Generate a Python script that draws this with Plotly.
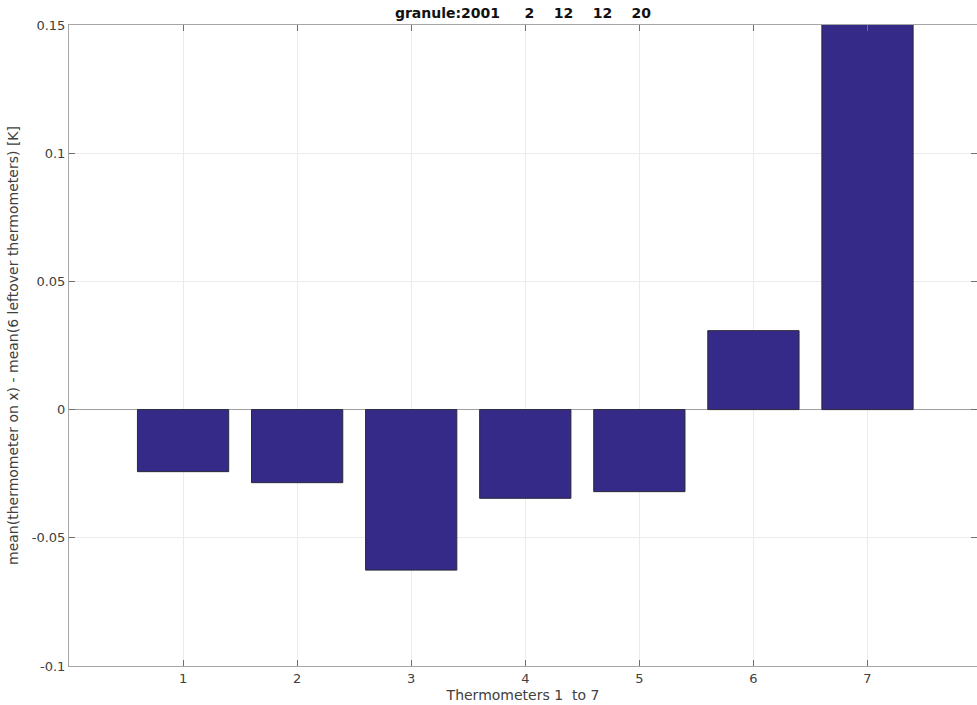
import plotly.graph_objects as go

# Thermometer index and mean offset relative to the other six thermometers [K]
thermometers = [1, 2, 3, 4, 5, 6, 7]
offsets = [-0.0242, -0.0285, -0.0626, -0.0346, -0.0320, 0.0308, 0.1600]

title_text = "granule:2001     2    12    12    20"
x_title = "Thermometers 1  to 7"
y_title = "mean(thermometer on x) - mean(6 leftover thermometers) [K]"

bar_color = "#352a87"
axis_color = "#a6a6a6"
grid_color = "#ebebeb"
text_color = "#404040"
font_family = "DejaVu Sans, sans-serif"

fig = go.Figure(
    go.Bar(
        x=thermometers,
        y=offsets,
        width=0.8,
        marker=dict(color=bar_color, line=dict(color="#2a2a3a", width=1)),
        hoverinfo="x+y",
    )
)

fig.update_layout(
    width=977,
    height=705,
    margin=dict(l=69, r=0, t=25, b=39),
    paper_bgcolor="white",
    plot_bgcolor="white",
    showlegend=False,
    font=dict(family=font_family, size=13, color=text_color),
    title=dict(
        text="<b>" + title_text.replace(" ", "&nbsp;") + "</b>",
        x=0.5,
        xref="paper",
        y=1.0,
        yref="container",
        yanchor="top",
        pad=dict(t=8),
        font=dict(family=font_family, size=14, color="#111111"),
    ),
    xaxis=dict(
        range=[0, 7.96],
        tickmode="array",
        tickvals=thermometers,
        ticktext=[str(t) for t in thermometers],
        ticks="inside",
        ticklen=6,
        tickcolor="#707070",
        showline=True,
        linecolor=axis_color,
        linewidth=1,
        mirror="ticks",
        showgrid=True,
        gridcolor=grid_color,
        zeroline=False,
        title=dict(text=x_title.replace(" ", "&nbsp;"), standoff=5,
                   font=dict(size=14, color=text_color)),
        tickfont=dict(size=13, color=text_color),
    ),
    yaxis=dict(
        range=[-0.1, 0.15],
        tickmode="array",
        tickvals=[-0.1, -0.05, 0, 0.05, 0.1, 0.15],
        ticktext=["-0.1", "-0.05", "0", "0.05", "0.1", "0.15"],
        ticks="inside",
        ticklen=6,
        tickcolor="#707070",
        showline=True,
        linecolor=axis_color,
        linewidth=1,
        mirror="ticks",
        showgrid=True,
        gridcolor=grid_color,
        zeroline=True,
        zerolinecolor="#a0a0a0",
        zerolinewidth=1,
        title=dict(text=y_title, standoff=9,
                   font=dict(size=14, color=text_color)),
        tickfont=dict(size=13, color=text_color),
    ),
)

fig.write_html("out.html")
